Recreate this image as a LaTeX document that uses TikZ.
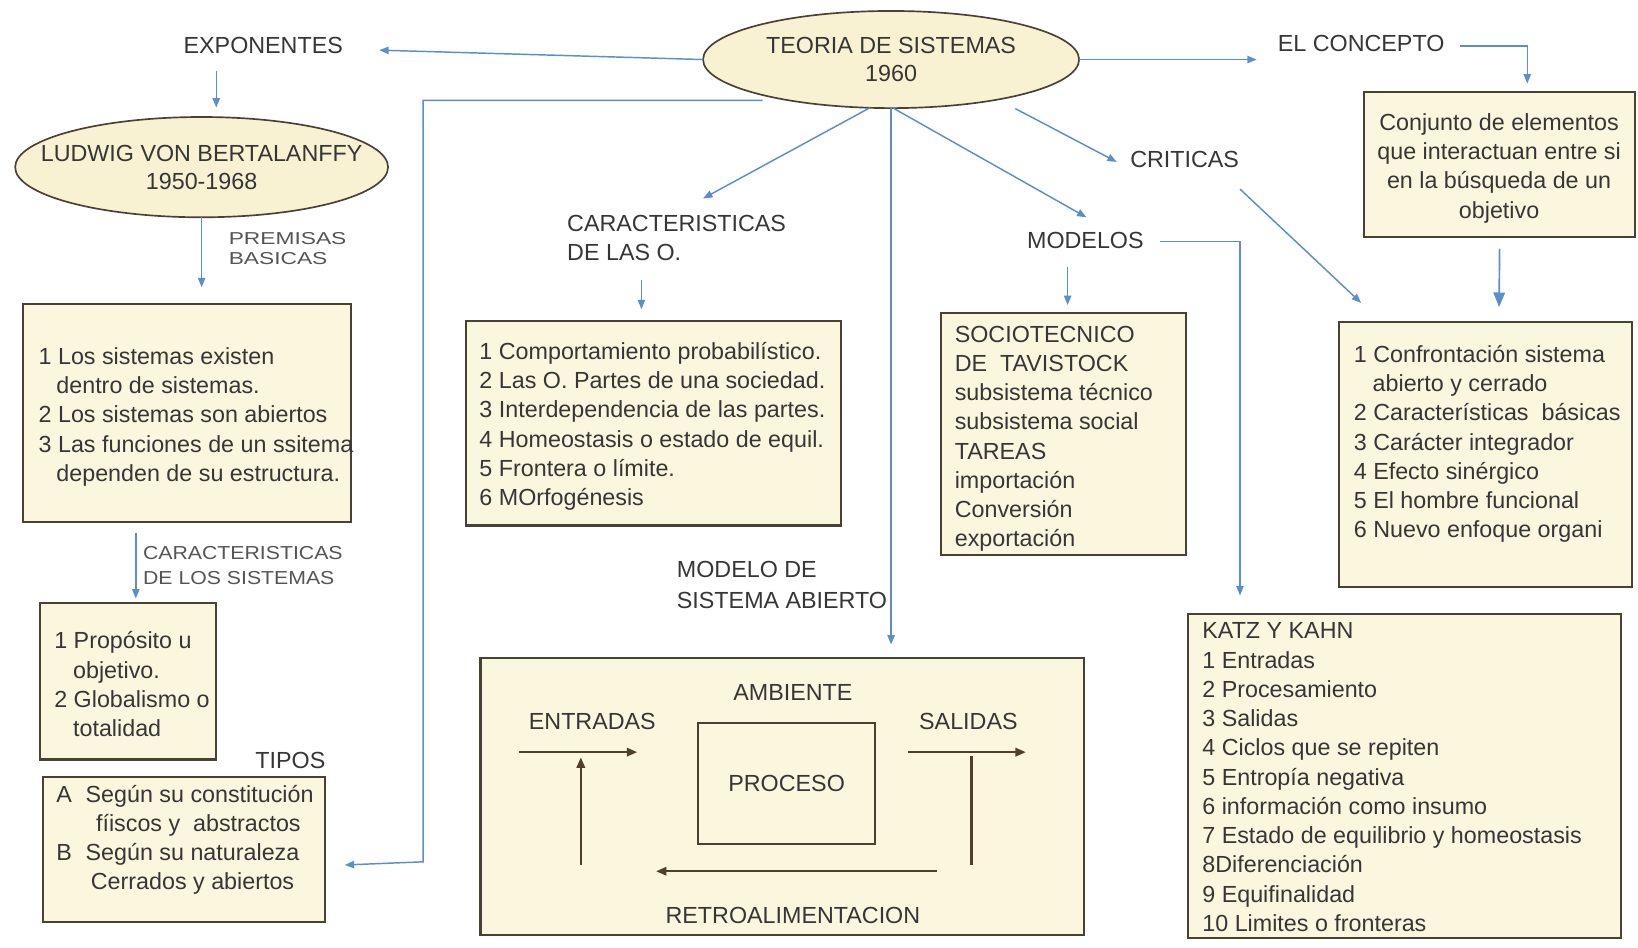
\documentclass[tikz,border=0pt]{standalone}
\usepackage{fontspec}
\setmainfont{Liberation Sans}
\newfontfamily\wideA[FakeStretch=1.32]{Liberation Sans}
\newfontfamily\wideB[FakeStretch=1.13]{Liberation Sans}
\usetikzlibrary{shapes.geometric,arrows.meta,calc}
\definecolor{cream}{HTML}{FBF7DE}
\definecolor{creamE}{HTML}{F8F1D2}
\definecolor{edge}{HTML}{4A4135}
\definecolor{ink}{HTML}{363636}
\definecolor{softink}{HTML}{555555}
\definecolor{arrowblue}{HTML}{5B8FCB}
\definecolor{brownline}{HTML}{4F3F2F}
\begin{document}
\begin{tikzpicture}[x=1pt,y=-1pt,
  every node/.style={inner sep=0pt, outer sep=0pt, text=ink, font=\fontsize{22.3}{28}\selectfont},
  oval/.style={ellipse, draw=edge, line width=1.6pt, fill=creamE, align=center},
  box/.style={rectangle, draw=edge, line width=2pt, fill=cream, anchor=north west},
  txt/.style={align=left, anchor=west},
  arr/.style={draw=arrowblue, line width=1.4pt, -{Triangle[length=9pt,width=7pt]}},
  bigarr/.style={draw=arrowblue, line width=1.6pt, -{Triangle[length=14pt,width=11pt]}},
  flow/.style={draw=brownline, line width=2.2pt, -{Triangle[length=10pt,width=8pt]}},
  flowline/.style={draw=brownline, line width=2.2pt}]
\fill[white] (0,0) rectangle (1568,907);
\useasboundingbox (0,0) rectangle (1568,907);

% ---------- ellipses ----------
\node[oval, minimum width=360pt, minimum height=93pt] (teoria) at (853,57) {\makebox[0pt]{TEORIA DE SISTEMAS}\\[-1pt]\makebox[0pt]{1960}};
\node[oval, minimum width=357pt, minimum height=96pt] (lud) at (193,160) {\makebox[0pt]{LUDWIG VON BERTALANFFY}\\[-1pt]\makebox[0pt]{1950-1968}};

% ---------- labels ----------
\node (expo) at (252,44) {EXPONENTES};
\node[txt, text=softink, font=\wideA\fontsize{16.5}{19}\selectfont] (premL) at (219,238) {PREMISAS\\BASICAS};
\node[txt, text=softink, font=\wideB\fontsize{18}{24}\selectfont] (carSisL) at (137,541) {CARACTERISTICAS\\DE LOS SISTEMAS};
\node (tipos) at (278,728) {TIPOS};
\node[txt] (carOL) at (543,228) {CARACTERISTICAS\\DE LAS O.};
\node[txt] (modAbL) at (648,560) {MODELO DE\\[2pt]SISTEMA ABIERTO};
\node (modelos) at (1039,230) {MODELOS};
\node (criticas) at (1134,153) {CRITICAS};
\node (concepto) at (1303,42) {EL CONCEPTO};

% ---------- boxes ----------
\node[box, minimum width=314pt, minimum height=209pt] (premBox) at (22,291) {};
\node[txt] (premT) at (37,399) {1 Los sistemas existen\\\hspace*{17pt}dentro de sistemas.\\2 Los sistemas son abiertos\\3 Las funciones de un ssitema\\\hspace*{17pt}dependen de su estructura.};

\node[box, minimum width=169pt, minimum height=150pt] (carSisBox) at (38,577) {};
\node[txt] (carSisT) at (52,655) {1 Propósito u\\\hspace*{18pt}objetivo.\\2 Globalismo o\\\hspace*{18pt}totalidad};

\node[box, minimum width=270pt, minimum height=139pt] (tiposBox) at (41,744) {};
\node[txt] (tiposT) at (54,804) {\makebox[28pt][l]{A}Según su constitución\\\hspace*{38pt}fíiscos y\ \ abstractos\\\makebox[28pt][l]{B}Según su naturaleza\\\hspace*{33pt}Cerrados y abiertos};

\node[box, minimum width=359pt, minimum height=196pt] (carOBox) at (446,307) {};
\node[txt] (carOT) at (459,408) {1 Comportamiento probabilístico.\\2 Las O. Partes de una sociedad.\\3 Interdependencia de las partes.\\4 Homeostasis o estado de equil.\\5 Frontera o límite.\\6 MOrfogénesis};

\node[box, minimum width=234pt, minimum height=231pt] (socioBox) at (901,300) {};
\node[txt] (socioT) at (914,420) {SOCIOTECNICO\\DE\ \ TAVISTOCK\\subsistema técnico\\subsistema social\\TAREAS\\importación\\Conversión\\exportación};

\node[box, minimum width=415pt, minimum height=310pt] (katzBox) at (1137,588) {};
\node[txt] (katzT) at (1151,744) {KATZ Y KAHN\\1 Entradas\\2 Procesamiento\\3 Salidas\\4 Ciclos que se repiten\\5 Entropía negativa\\6 información como insumo\\7 Estado de equilibrio y homeostasis\\8Diferenciación\\9 Equifinalidad\\10 Limites o fronteras};

\node[box, minimum width=259pt, minimum height=139pt] (conceptoBox) at (1306,88) {};
\node[align=center] (conceptoT) at (1435,161) {Conjunto de elementos\\que interactuan entre si\\en la búsqueda de un\\objetivo};

\node[box, minimum width=280pt, minimum height=254pt] (confBox) at (1282,308) {};
\node[txt] (confT) at (1296,425) {1 Confrontación sistema\\\hspace*{18pt}abierto y cerrado\\2 Características\ \ básicas\\3 Carácter integrador\\4 Efecto sinérgico\\5 El hombre funcional\\6 Nuevo enfoque organi};

% ---------- open system model ----------
\node[box, minimum width=578pt, minimum height=265pt] (openBox) at (460,630) {};
\node (ambiente) at (759,663) {AMBIENTE};
\node (entradas) at (567,691) {ENTRADAS};
\node (salidas) at (927,691) {SALIDAS};
\node[rectangle, draw=edge, line width=2pt, fill=cream, minimum width=170pt, minimum height=116pt] (procBox) at (753,750) {PROCESO};
\node (retro) at (759,876) {RETROALIMENTACION};

\draw[flow] ($(entradas.center)+(-70,29)$) -- ($(entradas.center)+(43,29)$);
\draw[flow] ($(entradas.center)+(-11,137)$) -- ($(entradas.center)+(-11,34)$);
\draw[flow] ($(salidas.center)+(-58,29)$) -- ($(salidas.center)+(55,29)$);
\draw[flowline] ($(salidas.center)+(3,33)$) -- ($(salidas.center)+(3,137)$);
\draw[flow] ($(retro.center)+(138,-42)$) -- ($(retro.center)+(-131,-42)$);

% ---------- blue connectors ----------
\draw[arr] (teoria.west) -- ($(expo.center)+(111,4)$);
\draw[arr] ($(expo.center)+(-45,24)$) -- ($(lud.center)+(14,-57)$);
\draw[arr] (lud.south) -- ($(premBox.north)+(14,-16)$);
\draw[arr] ($(premBox.south)+(-49,10)$) -- ($(carSisBox.north)+(7.5,-4)$);
\draw[arr] ($(teoria.center)+(-123,39)$) -- ($(teoria.center)+(-448,39)$) -- ($(tiposBox.east)+(94,11.5)$) -- ($(tiposBox.east)+(19,14.5)$);
\draw[arr] ($(teoria.center)+(-20,46)$) -- ($(carOL.west)+(130,-38)$);
\draw[arr] ($(carOL.west)+(71,40)$) -- ($(carOBox.north)+(-11.5,-11)$);
\draw[arr] (teoria.south) -- ($(openBox.north)+(104,-13)$);
\draw[arr] ($(teoria.south)+(2,0)$) -- ($(modelos.center)+(1,-22)$);
\draw[arr] ($(modelos.center)+(-17,26)$) -- ($(socioBox.north)+(4,-8)$);
\draw[arr] ($(modelos.center)+(71,1)$) -| ($(katzBox.north)+(-157.5,-18)$);
\draw[arr] ($(teoria.center)+(119,47)$) -- ($(criticas.center)+(-65,2)$);
\draw[arr] ($(criticas.center)+(53,28)$) -- ($(confBox.north)+(-119,-18)$);
\draw[arr] (teoria.east) -- ($(concepto.center)+(-100,15)$);
\draw[arr] ($(concepto.center)+(95,2)$) -| ($(conceptoBox.north)+(26.5,-8)$);
\draw[bigarr] ($(conceptoBox.south)+(0,11)$) -- ($(confBox.north)+(13,-14)$);
\end{tikzpicture}
\end{document}
